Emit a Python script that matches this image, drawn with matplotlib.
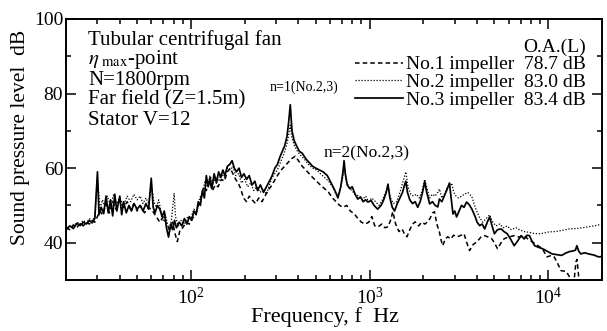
import matplotlib
matplotlib.use("Agg")
import matplotlib.pyplot as plt
from matplotlib.lines import Line2D
from matplotlib.ticker import LogLocator, MultipleLocator, NullFormatter

plt.rcParams["font.family"] = ["Liberation Serif", "DejaVu Serif"]
plt.rcParams["mathtext.fontset"] = "stix"

# ---- spectra: frequency (Hz) and sound pressure level (dB) ----
f1 = [20, 21, 22, 23, 24, 25, 26, 27, 28, 29, 30, 31, 32, 33.5, 35, 36.5, 38, 40, 42, 44,
      46, 48, 50, 52, 55, 58, 61, 64, 67, 70, 73, 76, 79, 82, 84, 87, 90, 94, 98, 102,
      106, 110, 114, 118, 122, 127, 132, 137, 142, 148, 154, 160, 166, 172, 178, 184, 190, 197, 205, 212,
      220, 230, 240, 250, 260, 270, 280, 292, 305, 320, 335, 350, 365, 384, 400, 420, 440, 460, 480, 505,
      530, 560, 590, 620, 650, 680, 710, 745, 780, 820, 860, 900, 945, 990, 1030, 1070, 1120, 1170, 1220, 1270,
      1310, 1350, 1400, 1460, 1520, 1580, 1620, 1680, 1740, 1800, 1880, 1960, 2040, 2110, 2180, 2250, 2310, 2380, 2460, 2520,
      2570, 2650, 2740, 2850, 2950, 3100, 3250, 3380, 3500, 3630, 3800, 4000, 4200, 4410, 4620, 4820, 5000, 5200, 5450, 5680,
      6000, 6450, 6900, 7340, 7700, 8100, 8600, 9270, 9840, 10300, 10800, 11300, 11800, 12600, 13100, 13600, 14000, 14300, 14500, 14800,
      15200, 16000]
spl1 = [44.0, 43.5, 44.8, 44.0, 45.3, 44.5, 45.6, 45.0, 46.0, 45.5, 47.0, 48.5, 47.5, 50.5, 48.0, 51.0, 49.0, 51.5, 49.5, 51.0,
        49.0, 50.5, 48.5, 50.0, 48.0, 49.5, 48.5, 47.0, 45.5, 47.0, 45.0, 43.5, 45.5, 42.0, 40.3, 43.5, 44.0, 45.5, 45.0, 46.5,
        47.5, 50.0, 52.0, 55.0, 54.0, 56.5, 54.0, 55.5, 55.0, 57.0, 56.5, 59.0, 60.0, 58.5, 57.0, 56.0, 54.5, 52.0, 51.0, 52.5,
        51.5, 50.5, 52.0, 51.0, 52.5, 54.0, 55.0, 56.5, 58.0, 59.5, 60.5, 61.5, 62.5, 63.2, 62.0, 60.5, 59.5, 58.5, 57.5, 56.5,
        55.5, 54.5, 53.5, 52.0, 51.0, 50.0, 49.5, 50.0, 48.5, 47.8, 46.5, 45.5, 45.0, 45.5, 47.0, 44.5, 44.3, 45.0, 44.0, 44.3,
        46.0, 48.3, 45.0, 43.0, 43.7, 42.0, 41.6, 43.5, 45.0, 45.6, 44.5, 45.5, 45.0, 45.6, 46.5, 48.0, 48.3, 45.0, 42.9, 40.5,
        39.2, 41.0, 41.6, 41.0, 42.0, 41.6, 42.0, 42.4, 40.0, 37.9, 39.5, 40.3, 41.5, 41.9, 41.5, 41.1, 40.0, 38.4, 40.0, 41.1,
        41.5, 41.9, 41.5, 41.9, 41.0, 40.3, 39.5, 38.4, 36.2, 36.5, 36.2, 34.4, 32.5, 32.3, 31.0, 29.5, 30.5, 34.9, 35.5, 31.0,
        28.5, 27.0]

f2 = [20, 21, 22, 23, 24, 25, 26, 27, 28, 29, 30, 31, 32, 33, 34, 35.5, 37, 38.5, 40, 42,
      44, 46, 48, 50, 52, 54, 56, 58, 60, 62, 64, 66, 68, 70, 72, 74, 76, 78, 80.6, 82,
      85, 88, 92, 96, 100, 104, 108, 112, 116, 120, 124, 128, 133, 138, 143, 148, 154, 160, 166, 172,
      178, 185, 192, 200, 208, 216, 225, 234, 244, 255, 265, 275, 285, 295, 308, 320, 333, 345, 353, 360,
      368, 380, 395, 410, 430, 455, 480, 505, 530, 560, 590, 620, 650, 680, 705, 722, 740, 765, 795, 830,
      870, 910, 950, 990, 1030, 1080, 1130, 1180, 1230, 1270, 1310, 1360, 1420, 1480, 1540, 1596, 1640, 1700, 1760, 1830,
      1900, 1970, 2036, 2100, 2170, 2250, 2330, 2410, 2460, 2540, 2620, 2700, 2800, 2880, 2960, 3050, 3150, 3270, 3400, 3550,
      3740, 3900, 4100, 4300, 4500, 4700, 4900, 5100, 5350, 5600, 5900, 6200, 6600, 6900, 7300, 7800, 8300, 8900, 9500, 10100,
      11000, 12000, 13100, 14300, 15500, 17000, 18500, 20000]
spl2 = [43.0, 44.5, 44.0, 45.5, 45.0, 46.0, 45.2, 46.5, 45.8, 47.0, 57.5, 49.0, 51.5, 49.5, 52.5, 50.0, 53.0, 50.5, 52.0, 50.0,
        52.5, 51.0, 53.0, 51.5, 52.5, 50.5, 52.0, 50.5, 56.0, 51.0, 49.5, 51.5, 48.5, 46.0, 47.5, 45.0, 43.0, 46.5, 53.3, 47.0,
        44.5, 46.0, 45.0, 47.0, 46.5, 49.0, 48.0, 52.0, 53.5, 56.5, 55.0, 58.0, 56.0, 57.5, 56.5, 58.5, 57.5, 60.0, 59.5, 60.5,
        58.0, 58.5, 56.0, 57.0, 55.0, 56.0, 54.0, 55.0, 53.5, 54.5, 53.0, 55.5, 57.5, 58.5, 60.0, 62.0, 64.0, 66.5, 69.0, 71.5,
        68.0, 66.0, 64.5, 63.5, 62.5, 61.0, 60.0, 59.5, 58.5, 57.5, 56.5, 55.0, 53.0, 53.5, 57.0, 60.0, 56.5, 55.0, 54.0, 53.0,
        52.5, 51.5, 52.5, 51.0, 52.0, 51.0, 50.0, 51.5, 53.5, 55.0, 52.0, 50.5, 51.0, 53.5, 56.5, 59.0, 55.0, 53.0, 52.5, 53.0,
        52.0, 54.0, 57.0, 54.5, 52.0, 53.0, 52.5, 53.5, 54.4, 52.0, 53.0, 54.5, 55.0, 56.0, 53.5, 52.5, 52.0, 52.5, 53.0, 53.5,
        52.3, 49.5, 47.0, 45.5, 46.5, 47.5, 45.5, 44.5, 45.0, 44.0, 44.5, 43.5, 44.0, 43.5, 43.0, 42.8, 42.5, 42.4, 42.6, 42.9,
        43.0, 43.3, 43.7, 43.8, 44.0, 44.3, 44.6, 45.0]

f3 = [20, 21, 22, 23, 24, 25, 26, 27, 28, 29, 30, 30.6, 31.5, 32.5, 33.5, 34.5, 35.5, 36.5, 37.5, 38.5,
      40, 41, 42, 43.5, 45, 46.5, 48, 50, 52, 54, 56, 58, 60, 61.5, 63, 65, 67, 69, 71, 73,
      75, 77, 79, 81, 83, 86, 89, 92, 95, 98, 101, 104, 107, 110, 113, 116, 119, 122, 125, 128,
      131, 135, 139, 143, 147, 151, 155, 160, 165, 170, 175, 180, 186, 192, 198, 205, 212, 220, 228, 236,
      245, 255, 265, 275, 285, 295, 305, 315, 325, 335, 345, 352, 360, 368, 378, 390, 405, 420, 440, 460,
      480, 500, 525, 550, 580, 610, 640, 665, 690, 710, 720, 732, 750, 775, 800, 830, 860, 890, 920, 950,
      980, 1020, 1060, 1110, 1160, 1200, 1240, 1268, 1300, 1340, 1380, 1430, 1480, 1530, 1570, 1596, 1630, 1680, 1740, 1800,
      1860, 1920, 1980, 2036, 2090, 2170, 2250, 2330, 2410, 2460, 2540, 2620, 2700, 2800, 2860, 2930, 3000, 3070, 3170, 3270,
      3380, 3490, 3600, 3740, 3900, 4000, 4130, 4270, 4410, 4560, 4700, 4850, 5000, 5200, 5450, 5650, 5900, 6150, 6450, 6750,
      7050, 7340, 7600, 7850, 8100, 8400, 8800, 9270, 9800, 10500, 11200, 11900, 12500, 13100, 13800, 14200, 14470, 14800, 15200, 16000,
      16800, 18000, 19100, 20000]
spl3 = [43.5, 44.5, 43.8, 45.2, 44.6, 45.5, 45.0, 46.0, 45.3, 46.5, 59.0, 47.5, 49.5, 47.8, 52.5, 48.0, 51.5, 47.2, 53.0, 48.5,
        52.5, 47.5, 51.0, 48.0, 50.0, 48.5, 50.5, 49.0, 50.0, 48.5, 50.5, 49.0, 57.3, 49.5, 48.0, 50.0, 49.0, 47.0, 48.5, 44.0,
        41.5, 45.0, 43.5, 46.0, 44.0, 45.5, 44.5, 46.5, 45.0, 47.0, 46.0, 48.5, 47.5, 51.0, 50.0, 54.0, 52.0, 58.0, 55.0, 57.5,
        54.5, 58.5, 56.0, 59.0, 57.5, 59.5, 58.0, 60.5, 61.0, 62.0, 60.0, 59.0, 60.0, 57.5, 58.5, 57.0, 58.0, 55.5, 56.5, 54.0,
        55.5, 53.5, 55.0, 56.5, 58.0, 60.0, 61.0, 63.0, 64.5, 66.0, 68.5, 72.0, 77.0, 70.0, 67.5, 66.0, 64.5, 64.0, 62.5, 61.5,
        60.5, 60.0, 59.5, 59.0, 58.0, 56.0, 54.0, 52.0, 55.0, 59.0, 62.0, 58.5, 55.5, 54.5, 55.0, 53.0, 51.7, 52.3, 51.0, 51.5,
        50.9, 51.3, 50.0, 49.0, 50.0, 51.5, 53.5, 55.7, 52.0, 49.5, 48.5, 50.5, 52.0, 53.5, 55.5, 56.5, 53.5, 51.5, 50.5, 51.0,
        49.5, 51.0, 53.5, 56.4, 53.5, 50.4, 51.0, 50.0, 49.6, 51.7, 51.0, 52.5, 54.0, 56.0, 52.0, 47.7, 48.5, 46.9, 48.5, 50.0,
        49.5, 50.9, 50.3, 49.0, 47.0, 45.5, 44.6, 45.0, 43.7, 45.5, 46.9, 44.5, 42.4, 43.5, 43.7, 43.0, 42.4, 41.0, 39.2, 40.5,
        41.9, 41.0, 42.0, 41.9, 40.5, 39.2, 38.8, 38.4, 37.8, 37.0, 36.8, 36.6, 37.2, 37.6, 37.8, 38.0, 39.2, 37.8, 37.0, 37.3,
        37.0, 36.7, 36.2, 36.3]

series_labels = ["No.1 impeller  78.7 dB", "No.2 impeller  83.0 dB", "No.3 impeller  83.4 dB"]
info_lines = ["Tubular centrifugal fan", r"$\eta_{\rm\ max}$-point", "N=1800rpm",
              "Far field (Z=1.5m)", "Stator V=12"]

fig = plt.figure(figsize=(6.07, 3.31), dpi=100)
ax = fig.add_axes([66 / 607, 1 - 280 / 331, 536 / 607, 261 / 331])

styles = [dict(ls=(0, (3.0, 2.0)), lw=1.1),
          dict(ls=(0, (1.0, 1.4)), lw=0.9),
          dict(ls="-", lw=1.25)]
for f, s, st in zip([f1, f2, f3], [spl1, spl2, spl3], styles):
    ax.plot(f, s, color="black", **st)

ax.set_xscale("log")
ax.set_xlim(20, 20000)
ax.set_ylim(30, 100)
ax.yaxis.set_major_locator(MultipleLocator(20))
ax.yaxis.set_minor_locator(MultipleLocator(10))
ax.set_yticks([40, 60, 80, 100])
ax.xaxis.set_major_locator(LogLocator(base=10))
ax.xaxis.set_minor_locator(LogLocator(base=10, subs=range(2, 10)))
ax.xaxis.set_minor_formatter(NullFormatter())

for sp in ax.spines.values():
    sp.set_linewidth(1.4)
ax.tick_params(which="both", direction="in", top=True, right=True, width=1.1, labelsize=14)
ax.tick_params(which="major", length=7)
ax.tick_params(which="minor", length=3.5)
ax.tick_params(axis="y", pad=2)
ax.tick_params(axis="x", pad=5)

ax.text(0.483, -0.142, "Frequency, f  Hz", transform=ax.transAxes, ha="center", va="center", fontsize=16)
ax.text(-0.084, 0.548, "Sound pressure level  dB", transform=ax.transAxes, ha="center", va="center",
        rotation=90, fontsize=15.5)

ys = [0.920, 0.843, 0.766, 0.690, 0.613]
for y, t in zip(ys, info_lines):
    ax.text(0.041, y, t, transform=ax.transAxes, ha="left", va="center", fontsize=15)

ax.text(0.444, 0.739, "n=1(No.2,3)", transform=ax.transAxes, ha="center", va="center", fontsize=10)
ax.text(0.5616, 0.4866, "n=2(No.2,3)", transform=ax.transAxes, ha="center", va="center", fontsize=12.5)

handles = [Line2D([], [], color="black", **st) for st in styles]
leg = ax.legend(handles, series_labels, title="O.A.(L)", loc="upper right",
                bbox_to_anchor=(0.970, 0.925), frameon=False, alignment="right",
                handlelength=2.5, handletextpad=0.15, labelspacing=0.0, borderpad=0,
                borderaxespad=0, fontsize=14, title_fontsize=14)

fig.savefig("out.png", dpi=100)
